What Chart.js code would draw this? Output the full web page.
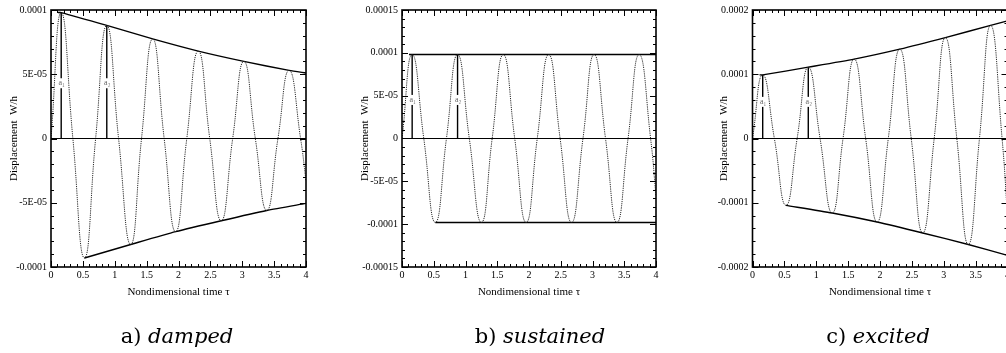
<!DOCTYPE html>
<html><head><meta charset="utf-8">
<script src="https://cdn.jsdelivr.net/npm/chart.js@4.4.0/dist/chart.umd.min.js"></script>
<style>
html,body{margin:0;padding:0;background:#fff;overflow:hidden;width:1006px;height:353px;}
canvas{position:absolute;top:0;}
.cap{position:absolute;top:324px;width:300px;text-align:center;font-family:'DejaVu Serif',serif;font-size:21px;line-height:24px;color:#000;white-space:pre;}
.cap i{font-style:italic;}
</style></head><body>
<canvas id="ca" width="340" height="353" style="left:0px"></canvas>
<canvas id="cb" width="340" height="353" style="left:340px"></canvas>
<canvas id="cc" width="340" height="353" style="left:680px"></canvas>
<div class="cap" id="capa" style="left:27px"></div>
<div class="cap" id="capb" style="left:390px"></div>
<div class="cap" id="capc" style="left:728px"></div>
<script>
// ---- data ----
const tau = [0, 0.16, 0.343, 0.525, 0.70, 0.875, 1.06, 1.25, 1.42, 1.595, 1.775, 1.955, 2.13, 2.31, 2.49, 2.67, 2.85, 3.025, 3.205, 3.385, 3.56, 3.735, 3.915, 4.0];
const dampedW = [0, 9.8e-5, 0, -9.3e-5, 0, 8.8e-5, 0, -8.25e-5, 0, 7.75e-5, 0, -7.25e-5, 0, 6.8e-5, 0, -6.4e-5, 0, 6.0e-5, 0, -5.6e-5, 0, 5.3e-5, 0, -3.3e-5];
const sustainedW = [0, 9.8e-5, 0, -9.8e-5, 0, 9.8e-5, 0, -9.8e-5, 0, 9.8e-5, 0, -9.8e-5, 0, 9.8e-5, 0, -9.8e-5, 0, 9.8e-5, 0, -9.8e-5, 0, 9.8e-5, 0, -6.7e-5];
const excitedW = [0, 9.9e-5, 0, -1.04e-4, 0, 1.11e-4, 0, -1.16e-4, 0, 1.235e-4, 0, -1.30e-4, 0, 1.39e-4, 0, -1.47e-4, 0, 1.57e-4, 0, -1.65e-4, 0, 1.76e-4, 0, -1.2e-4];

const upperTau = [0.11, 0.16, 0.875, 1.595, 2.31, 3.025, 3.735, 4.0];
const dampedUpper = [9.8e-5, 9.8e-5, 8.8e-5, 7.75e-5, 6.8e-5, 6.0e-5, 5.3e-5, 5.1e-5];
const sustainedUpper = [9.8e-5, 9.8e-5, 9.8e-5, 9.8e-5, 9.8e-5, 9.8e-5, 9.8e-5, 9.8e-5];
const excitedUpper = [9.9e-5, 9.9e-5, 1.11e-4, 1.235e-4, 1.39e-4, 1.57e-4, 1.76e-4, 1.83e-4];

const lowerTau = [0.525, 1.25, 1.955, 2.67, 3.385, 4.0];
const dampedLower = [-9.3e-5, -8.25e-5, -7.25e-5, -6.4e-5, -5.6e-5, -5.05e-5];
const sustainedLower = [-9.8e-5, -9.8e-5, -9.8e-5, -9.8e-5, -9.8e-5, -9.8e-5];
const excitedLower = [-1.04e-4, -1.16e-4, -1.30e-4, -1.47e-4, -1.65e-4, -1.82e-4];

const arrowTau = [0.16, 0.875];
const arrowLabels = ['a\u2081', 'a\u2082'];
const dampedArrowTop = [9.8e-5, 8.8e-5];
const sustainedArrowTop = [9.8e-5, 9.8e-5];
const excitedArrowTop = [9.9e-5, 1.11e-4];
const arrowLabelW = [4.3e-5, 4.5e-5, 5.7e-5];

const xTickValues = [0, 0.5, 1, 1.5, 2, 2.5, 3, 3.5, 4];
const xTickLabels = ['0', '0.5', '1', '1.5', '2', '2.5', '3', '3.5', '4'];
const yTickValuesA = [-1e-4, -5e-5, 0, 5e-5, 1e-4];
const yTickLabelsA = ['-0.0001', '-5E-05', '0', '5E-05', '0.0001'];
const yTickValuesB = [-1.5e-4, -1e-4, -5e-5, 0, 5e-5, 1e-4, 1.5e-4];
const yTickLabelsB = ['-0.00015', '-0.0001', '-5E-05', '0', '5E-05', '0.0001', '0.00015'];
const yTickValuesC = [-2e-4, -1e-4, 0, 1e-4, 2e-4];
const yTickLabelsC = ['-0.0002', '-0.0001', '0', '0.0001', '0.0002'];

const captionLetters = ['a)', 'b)', 'c)'];
const captionWords = ['damped', 'sustained', 'excited'];
const xTitle = 'Nondimensional time \u03C4';
const yTitle = 'Displacement  W/h';

// ---- helpers ----
const pts = (xs, ys) => xs.map((x, i) => ({x: x, y: ys[i]}));

const framePlugin = {
  id: 'frame',
  afterDraw(chart) {
    const o = chart.options.plugins.frame;
    const {ctx, chartArea: a, scales: {x, y}} = chart;
    ctx.save();
    ctx.strokeStyle = '#000';
    ctx.lineWidth = 1;
    // inward ticks on four sides
    const nx = Math.round((x.max - x.min) / o.xMinor);
    for (let n = 0; n <= nx; n++) {
      const px = Math.round(x.getPixelForValue(x.min + n * o.xMinor)) + 0.5;
      const len = n % o.xRatio === 0 ? 6 : 3;
      ctx.beginPath();
      ctx.moveTo(px, a.bottom); ctx.lineTo(px, a.bottom - len);
      ctx.moveTo(px, a.top); ctx.lineTo(px, a.top + len);
      ctx.stroke();
    }
    const ny = Math.round((y.max - y.min) / o.yMinor);
    for (let n = 0; n <= ny; n++) {
      const py = Math.round(y.getPixelForValue(y.min + n * o.yMinor)) + 0.5;
      const len = n % o.yRatio === 0 ? 6 : 3;
      ctx.beginPath();
      ctx.moveTo(a.left, py); ctx.lineTo(a.left + len, py);
      ctx.moveTo(a.right, py); ctx.lineTo(a.right - len, py);
      ctx.stroke();
    }
    ctx.lineWidth = 1.6;
    ctx.strokeRect(a.left, a.top, a.right - a.left, a.bottom - a.top);
    // arrow labels
    ctx.font = '8px "Liberation Serif"';
    ctx.textAlign = 'center';
    ctx.textBaseline = 'middle';
    arrowTau.forEach((t, i) => {
      const px = x.getPixelForValue(t);
      const py = y.getPixelForValue(o.labelW);
      ctx.fillStyle = '#fff';
      ctx.fillRect(px - 3.5, py - 5, 7, 10);
      ctx.fillStyle = '#666';
      ctx.fillText(arrowLabels[i], px + 0.5, py);
    });
    ctx.restore();
  }
};

function makePanel(id, p) {
  const arrowSets = arrowTau.map((t, i) => ({
    data: [{x: t, y: 0}, {x: t, y: p.arrowTop[i]}],
    borderColor: '#000', borderWidth: 1.4, pointRadius: 0, tension: 0
  }));
  return new Chart(document.getElementById(id), {
    type: 'line',
    data: {
      datasets: [
        {data: [{x: xTickValues[0], y: 0}, {x: xTickValues[xTickValues.length - 1], y: 0}],
         borderColor: '#000', borderWidth: 1.2, pointRadius: 0},
        {data: pts(tau, p.w), borderColor: '#2a2a2a', borderWidth: 1, borderDash: [1.2, 1],
         pointRadius: 0, tension: 0.5},
        {data: pts(upperTau, p.upper), borderColor: '#000', borderWidth: 1.4, pointRadius: 0, tension: 0.2},
        {data: pts(lowerTau, p.lower), borderColor: '#000', borderWidth: 1.4, pointRadius: 0, tension: 0.2},
        ...arrowSets
      ]
    },
    options: {
      responsive: false,
      animation: false,
      layout: {padding: {left: p.padL, right: p.padR, top: 7, bottom: 54.4}},
      plugins: {
        legend: {display: false}, tooltip: {enabled: false},
        frame: {xMinor: 0.1, xRatio: 5, yMinor: p.yMinor, yRatio: 5, labelW: p.labelW}
      },
      scales: {
        x: {
          type: 'linear', min: 0, max: 4,
          grid: {display: false, drawTicks: false},
          border: {display: false},
          afterBuildTicks: s => { s.ticks = xTickValues.map(v => ({value: v})); },
          afterFit: s => { s.height = 31.6; },
          ticks: {
            autoSkip: false, maxRotation: 0, padding: 2, color: '#000',
            font: {family: 'Liberation Serif', size: 10},
            callback: (v, i) => xTickLabels[i]
          },
          title: {display: true, text: xTitle, color: '#000', padding: 0,
                  font: {family: 'Liberation Serif', size: 11}}
        },
        y: {
          type: 'linear', min: p.yMin, max: p.yMax,
          grid: {display: false, drawTicks: false},
          border: {display: false},
          afterBuildTicks: s => { s.ticks = p.yTicks.map(v => ({value: v})); },
          afterFit: s => { s.width = p.yW; },
          ticks: {
            autoSkip: false, padding: 4, color: '#000',
            font: {family: 'Liberation Serif', size: 10},
            callback: (v, i) => p.yLabels[i]
          },
          title: {display: true, text: yTitle, color: '#000', padding: 0,
                  font: {family: 'Liberation Serif', size: 11}}
        }
      }
    },
    plugins: [framePlugin]
  });
}

makePanel('ca', {w: dampedW, upper: dampedUpper, lower: dampedLower, arrowTop: dampedArrowTop,
  labelW: arrowLabelW[0], yMin: -1e-4, yMax: 1e-4, yMinor: 1e-5, yTicks: yTickValuesA, yLabels: yTickLabelsA,
  padL: 8, yW: 43, padR: 34});
makePanel('cb', {w: sustainedW, upper: sustainedUpper, lower: sustainedLower, arrowTop: sustainedArrowTop,
  labelW: arrowLabelW[1], yMin: -1.5e-4, yMax: 1.5e-4, yMinor: 1e-5, yTicks: yTickValuesB, yLabels: yTickLabelsB,
  padL: 18.7, yW: 43.3, padR: 24});
makePanel('cc', {w: excitedW, upper: excitedUpper, lower: excitedLower, arrowTop: excitedArrowTop,
  labelW: arrowLabelW[2], yMin: -2e-4, yMax: 2e-4, yMinor: 2e-5, yTicks: yTickValuesC, yLabels: yTickLabelsC,
  padL: 38, yW: 34.5, padR: 12.5});

['capa', 'capb', 'capc'].forEach((id, i) => {
  const el = document.getElementById(id);
  el.appendChild(document.createTextNode(captionLetters[i] + ' '));
  const it = document.createElement('i');
  it.textContent = captionWords[i];
  el.appendChild(it);
});
</script>
</body></html>
